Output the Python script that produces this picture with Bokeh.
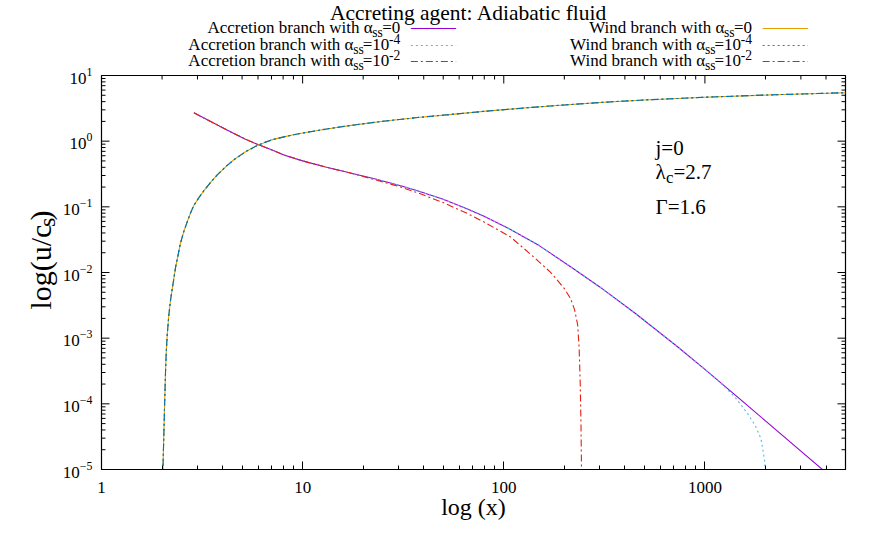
from math import pi
from bokeh.plotting import figure
from bokeh.layouts import column, row
from bokeh.models import (Range1d, Label, NumeralTickFormatter, LogTicker)
from bokeh.core.properties import value
from bokeh.embed import file_html
from bokeh.resources import INLINE

# ---------------- data ----------------
wind_x = [2.0, 2.005, 2.01, 2.02, 2.042, 2.06, 2.082, 2.1, 2.122, 2.16, 2.204, 2.26, 2.335,
          2.47, 2.57, 2.668, 2.77, 2.878, 3.05, 3.228, 3.49, 3.764, 4.14, 4.55, 5.2, 5.95,
          6.49, 7.08, 8.07, 9.0, 10, 13.2, 17.4, 25.1, 37.2, 53.7, 79.4, 126, 200, 316, 501,
          1000, 2239, 5012]
wind_y = [1e-7, 1e-6, 3e-6, 1.0e-5, 3.5e-5, 1.0e-4, 3.2e-4, 6.3e-4, 1.12e-3, 2.2e-3, 3.8e-3,
          6.3e-3, 0.012, 0.028, 0.0427, 0.059, 0.0805, 0.105, 0.138, 0.176, 0.236, 0.307,
          0.407, 0.521, 0.69, 0.861, 0.958, 1.055, 1.163, 1.249, 1.33, 1.535, 1.74, 2.01,
          2.29, 2.54, 2.84, 3.20, 3.56, 3.92, 4.24, 4.67, 5.10, 5.47]

acc0_x = [2.88, 3.16, 3.49, 3.98, 4.55, 5.2, 5.95, 7.0, 8.07, 10, 13, 17.3, 23, 30.7, 37.2,
          50, 66, 79.8, 108, 150, 224, 300, 450, 731, 1000, 1500, 2000, 3000, 3981, 5012]
acc0_y = [2.70, 2.33, 1.99, 1.62, 1.31, 1.07, 0.895, 0.74, 0.617, 0.501, 0.404, 0.327, 0.265,
          0.210, 0.176, 0.130, 0.0927, 0.0716, 0.0452, 0.0257, 0.0112, 6.03e-3, 2.40e-3,
          7.4e-4, 3.34e-4, 1.17e-4, 5.5e-5, 1.91e-5, 9.1e-6, 4.9e-6]

# alpha_ss = 1e-4 accretion branch leaves the alpha_ss = 0 one beyond x ~ 1000
acc4_tail_x = [1109, 1259, 1413, 1630, 1778, 1900, 1980, 2020, 2030]
acc4_tail_y = [2.56e-4, 1.8e-4, 1.26e-4, 7.1e-5, 4.7e-5, 2.95e-5, 1.4e-5, 4e-6, 1e-7]

# alpha_ss = 1e-2 accretion branch leaves it beyond x ~ 17
acc2_tail_x = [23, 30.7, 37.2, 50, 66, 79.8, 108, 141.6, 170, 185, 200, 215, 225, 233, 237,
               240, 242, 243.5, 244]
acc2_tail_y = [0.258, 0.200, 0.164, 0.116, 0.079, 0.0587, 0.0348, 0.017, 0.0102, 0.0076,
               0.0057, 0.0040, 0.0027, 0.0016, 7e-4, 2e-4, 5e-5, 1e-5, 1e-7]

acc4_x = [x for x in acc0_x if x <= 1000] + acc4_tail_x
acc4_y = [y for x, y in zip(acc0_x, acc0_y) if x <= 1000] + acc4_tail_y
acc2_x = [x for x in acc0_x if x <= 17.3] + acc2_tail_x
acc2_y = [y for x, y in zip(acc0_x, acc0_y) if x <= 17.3] + acc2_tail_y

x_range = (1, 5000)
y_range = (1e-5, 10)
x_major = [1, 10, 100, 1000]
y_major = [1e-5, 1e-4, 1e-3, 1e-2, 1e-1, 1, 10]
x_minor = [m * d for d in (1, 10, 100, 1000) for m in range(2, 10) if m * d < 5000]
y_minor = [m * d for d in (1e-5, 1e-4, 1e-3, 1e-2, 1e-1, 1) for m in range(2, 10)]

title_text = "Accreting agent: Adiabatic fluid"
legend_left = [("Accretion branch with α", "=0", ""), ("Accretion branch with α", "=10", "-4"),
               ("Accretion branch with α", "=10", "-2")]
legend_right = [("Wind branch with α", "=0", ""), ("Wind branch with α", "=10", "-4"),
                ("Wind branch with α", "=10", "-2")]

# ---------------- styles ----------------
FONT = "Liberation Serif"
C_PURPLE = "#9400d3"
C_LBLUE = "#56b4e9"
C_RED = "#e51e10"
C_ORANGE = "#e69f00"
C_GREEN = "#009e73"
C_BLUE = "#0072b2"
DOT = "2 3"
DASHDOT = "7 3 2 3"

# page geometry (px): frame of the main plot
FL, FT, FR, FB = 101, 75, 845, 469
W, H = 864, 537
YLAB_W = 60                 # strip with rotated y label: page x 0..60
TICK_W = 32                 # strip with y tick labels:  page x 60..92
MAIN_X0 = YLAB_W + TICK_W   # main figure and header start here
TOP_H = 73                  # header strip height (title + key)
MAIN_W = W - MAIN_X0
MAIN_H = H - TOP_H
SHIFT = 0.28                # svg text sits this many em below the requested baseline


def blank_fig(w, h, xr, yr):
    f = figure(width=w, height=h, x_range=Range1d(*xr), y_range=Range1d(*yr),
               output_backend="svg", toolbar_location=None,
               x_axis_location=None, y_axis_location=None,
               min_border_left=0, min_border_right=0, min_border_top=0, min_border_bottom=0)
    f.outline_line_color = None
    f.xgrid.visible = False
    f.ygrid.visible = False
    f.background_fill_color = "white"
    f.border_fill_color = "white"
    return f


# header strip and y-label strip: data coordinates = page pixels (y downwards)
top = blank_fig(MAIN_W, TOP_H, (MAIN_X0, W), (TOP_H, 0))
ylab = blank_fig(YLAB_W, H, (0, YLAB_W), (H, 0))

# ---------------- main plot ----------------
p = figure(width=MAIN_W, height=MAIN_H, x_axis_type="log", y_axis_type="log",
           x_range=Range1d(*x_range), y_range=Range1d(*y_range),
           output_backend="svg", toolbar_location=None, y_axis_location=None,
           min_border_left=FL - MAIN_X0, min_border_right=W - FR,
           min_border_top=FT - TOP_H, min_border_bottom=H - FB)
p.outline_line_color = "black"
p.outline_line_width = 1.2
p.xgrid.visible = False
p.ygrid.visible = False
p.background_fill_color = "white"
p.border_fill_color = "white"

xa = p.xaxis[0]
xa.ticker = LogTicker(desired_num_ticks=4, num_minor_ticks=10)
xa.formatter = NumeralTickFormatter(format="0")
xa.axis_line_color = "black"
xa.axis_line_width = 1.2
xa.major_tick_in = 8
xa.major_tick_out = 0
xa.minor_tick_in = 4
xa.minor_tick_out = 0
xa.major_tick_line_color = "black"
xa.minor_tick_line_color = "black"
xa.major_label_text_font = FONT
xa.major_label_text_font_size = "17px"
xa.major_label_text_color = "black"
xa.major_label_standoff = 12
xa.axis_label = "log (x)"
xa.axis_label_text_font = FONT
xa.axis_label_text_font_size = "24px"
xa.axis_label_text_font_style = "normal"
xa.axis_label_text_color = "black"
xa.axis_label_standoff = -2

# inward tick marks on the left, right and top edges (half of each dash is clipped)
p.scatter([x_range[0]] * len(y_major), y_major, marker="dash", size=16, line_color="black",
          line_width=1)
p.scatter([x_range[0]] * len(y_minor), y_minor, marker="dash", size=8, line_color="black",
          line_width=1)
p.scatter([x_range[1]] * len(y_major), y_major, marker="dash", size=16, line_color="black",
          line_width=1)
p.scatter([x_range[1]] * len(y_minor), y_minor, marker="dash", size=8, line_color="black",
          line_width=1)
p.scatter(x_major, [y_range[1]] * len(x_major), marker="dash", angle=pi / 2, size=16,
          line_color="black", line_width=1)
p.scatter(x_minor, [y_range[1]] * len(x_minor), marker="dash", angle=pi / 2, size=8,
          line_color="black", line_width=1)

# ---------------- curves ----------------
p.line(acc0_x, acc0_y, line_color=C_PURPLE, line_width=1.1)
p.line(acc4_x, acc4_y, line_color=C_LBLUE, line_width=1.1, line_dash=DOT)
p.line(acc2_x, acc2_y, line_color=C_RED, line_width=1.1, line_dash=DASHDOT)
p.line(wind_x, wind_y, line_color=C_ORANGE, line_width=1.1)
p.line(wind_x, wind_y, line_color=C_GREEN, line_width=1.1, line_dash=DOT)
p.line(wind_x, wind_y, line_color=C_BLUE, line_width=1.1, line_dash=DASHDOT)

# ---------------- y tick labels strip (shares the y scale) ----------------
tk = figure(width=TICK_W, height=H, y_axis_type="log", y_range=p.y_range,
            x_range=Range1d(0, 1), output_backend="svg", toolbar_location=None,
            x_axis_location=None, min_border_left=TICK_W - 1, min_border_right=0,
            min_border_top=FT, min_border_bottom=H - FB)
tk.outline_line_color = None
tk.xgrid.visible = False
tk.ygrid.visible = False
tk.background_fill_color = "white"
tk.border_fill_color = "white"
ya = tk.yaxis[0]
ya.ticker = LogTicker(num_minor_ticks=0)
ya.axis_line_color = None
ya.major_tick_line_color = None
ya.minor_tick_line_color = None
ya.major_tick_out = 0
ya.major_tick_in = 0
ya.major_label_standoff = 0
ya.major_label_text_font = FONT
ya.major_label_text_font_size = "17px"
ya.major_label_text_color = "black"

# ---------------- text helpers ----------------
CW = {' ': 250, 'A': 722, 'W': 944, 'a': 444, 'b': 500, 'c': 444, 'd': 500, 'e': 444, 'f': 333,
      'g': 500, 'h': 500, 'i': 278, 'j': 278, 'l': 278, 'n': 500, 'o': 500, 'r': 333, 's': 389,
      't': 278, 'u': 500, 'w': 722, 'x': 500, '=': 564, '-': 333, '.': 250, '(': 333, ')': 333,
      '/': 278, ':': 278, 'α': 531, 'λ': 500, 'Γ': 578}


def tw(s, size):
    return sum(CW.get(ch, 500) for ch in s) * size / 1000.0


def gtext(fig, text, px, py, size, align="left"):
    fig.text(x=[px], y=[py - SHIFT * size], text=[text], text_font=value(FONT),
             text_font_size=value(f"{size}px"), text_color="black",
             text_align=align, text_baseline="alphabetic")


def vtext(fig, text, px, py, size, align="left"):
    fig.text(x=[px - SHIFT * size], y=[py], text=[text], text_font=value(FONT),
             text_font_size=value(f"{size}px"), text_color="black",
             text_align=align, text_baseline="alphabetic", angle=pi / 2)


def flab(text, px, py, size, align="left"):
    p.add_layout(Label(x=px - FL, y=FB - (py - SHIFT * size), x_units="screen",
                       y_units="screen", text=text, text_font=FONT,
                       text_font_size=f"{size}px", text_color="black",
                       text_align=align, text_baseline="alphabetic"))


# title
gtext(top, title_text, (FL + FR) / 2, 19, 21.5, align="center")

# key
LS = 17
SUB = 0.8 * LS


def legend_entry(entry, xr, base, color, dash):
    main, tail, sup = entry
    x = xr
    if sup:
        gtext(top, sup, x, base - 0.42 * LS, SUB, align="right")
        x -= tw(sup, SUB)
    gtext(top, tail, x, base, LS, align="right")
    x -= tw(tail, LS)
    gtext(top, "ss", x, base + 0.25 * LS, SUB, align="right")
    x -= tw("ss", SUB)
    gtext(top, main, x, base, LS, align="right")
    kw = dict(line_color=color, line_width=1.2)
    if dash:
        kw["line_dash"] = dash
    top.line([xr + 11, xr + 58], [base - 4, base - 4], **kw)


bases = [32, 49, 65]
for e, b, c, d in zip(legend_left, bases, [C_PURPLE, C_LBLUE, C_RED], [None, DOT, DASHDOT]):
    legend_entry(e, 402, b, c, d)
for e, b, c, d in zip(legend_right, bases, [C_ORANGE, C_GREEN, C_BLUE], [None, DOT, DASHDOT]):
    legend_entry(e, 767, b, c, d)

# annotations inside the frame
AS = 21
flab("j=0", 655, 153, AS)
flab("λ", 655, 177, AS)
flab("c", 655 + tw("λ", AS), 182, 0.8 * AS)
flab("=2.7", 655 + tw("λ", AS) + tw("c", 0.8 * AS), 177, AS)
flab("Γ=1.6", 655, 212, AS)

# y axis label (rotated, reads upwards); parts anchored from the top end downwards
YS = 30
yb = 48
ylen = tw("log(u/c", YS) + tw("s", 0.8 * YS) + tw(")", YS)
y_end = 236 - ylen / 2
vtext(ylab, ")", yb, y_end, YS, align="right")
y_s = y_end + tw(")", YS)
vtext(ylab, "s", yb + 0.18 * YS, y_s, 0.8 * YS, align="right")
y_main = y_s + tw("s", 0.8 * YS)
vtext(ylab, "log(u/c", yb, y_main, YS, align="right")

layout = row(ylab, tk, column(top, p, spacing=0), spacing=0)
open("out.html", "w").write(file_html(layout, INLINE))
